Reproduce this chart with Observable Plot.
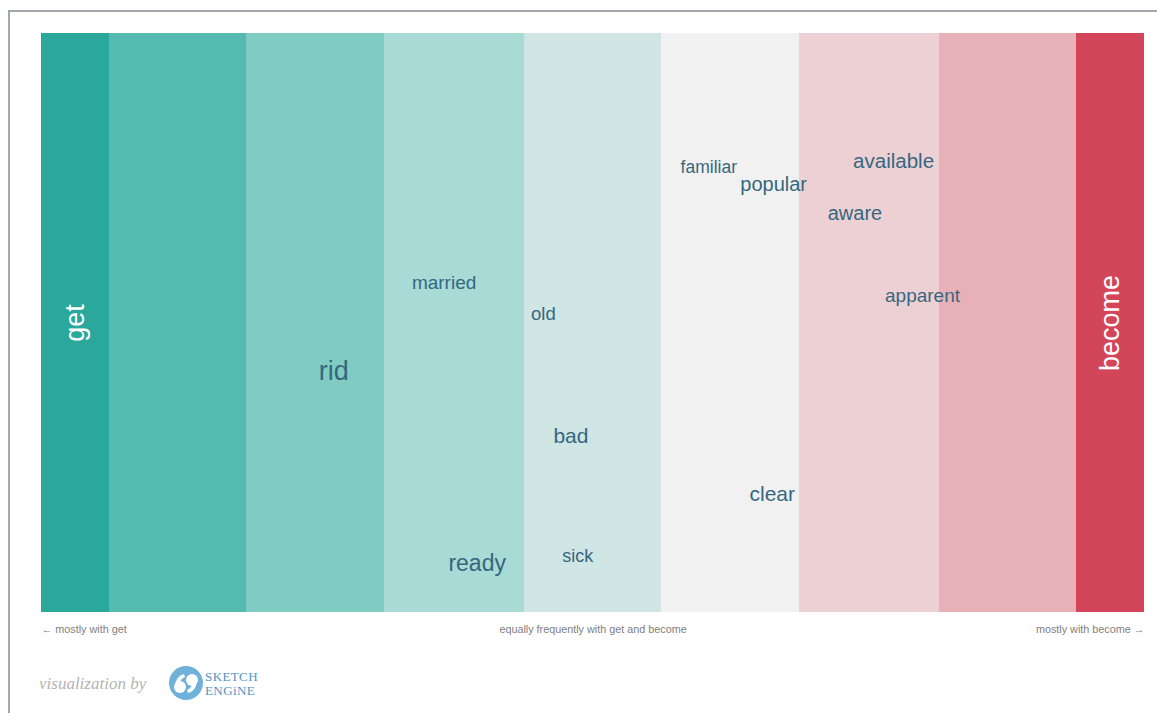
<!DOCTYPE html>
<html>
<head>
<meta charset="utf-8">
<script src="https://cdn.jsdelivr.net/npm/d3@7"></script>
<script src="https://cdn.jsdelivr.net/npm/@observablehq/plot@0.6"></script>
<style>
  html, body { margin: 0; padding: 0; background: #fff; }
  body { width: 1157px; height: 713px; position: relative; overflow: hidden; font-family: "Liberation Sans", Arial, sans-serif; }
  #frame { position: absolute; left: 8px; top: 10px; width: 1160px; height: 720px; border-top: 2px solid #a3a7ab; border-left: 2px solid #a3a7ab; box-sizing: border-box; }
  #chart { position: absolute; left: 0; top: 0; }
  #footer { position: absolute; left: 39px; top: 664px; height: 40px; display: flex; align-items: center; }
  #footer .by { font-family: "Liberation Serif", "DejaVu Serif", serif; font-style: italic; font-size: 17px; color: #b3b3b3; margin-right: 23px; }
</style>
</head>
<body>
<div id="frame"></div>
<div id="chart"></div>
<div id="footer">
  <span class="by">visualization by</span>
  <svg width="100" height="40" viewBox="0 0 100 40">
    <circle cx="17" cy="19" r="17" fill="#6fb1d9"/>
    <circle cx="11" cy="23" r="6" fill="#fff"/>
    <path d="M6,22 Q7,12 15,10 L16,13 Q11,15 10,21 Z" fill="#fff"/>
    <circle cx="23" cy="16" r="6" fill="#fff"/>
    <path d="M28,17 Q27,27 19,29 L18,26 Q23,24 24,18 Z" fill="#fff"/>
    <text x="36" y="17" font-family="Liberation Serif, serif" font-size="13" fill="#4f95c6" letter-spacing="0.4">SKETCH</text>
    <text x="36" y="31" font-family="Liberation Serif, serif" font-size="13" fill="#4f95c6" letter-spacing="0.4">ENGiNE</text>
  </svg>
</div>
<script>
// Bands (position scale: 0 = only "get", 8 = only "become")
const bandNames  = ["get", "b1", "b2", "b3", "b4", "b5", "b6", "b7", "become"];
const bandStart  = [0, 0.49, 1.49, 2.49, 3.5, 4.5, 5.5, 6.51, 7.51];
const bandEnd    = [0.49, 1.49, 2.49, 3.5, 4.5, 5.5, 6.51, 7.51, 8];
const bandColors = ["#29a89b", "#55bbb2", "#80cbc2", "#a8dbd6", "#cfe6e4", "#f1f1f1", "#edd0d4", "#e8b1b7", "#d3465a"];

// Collocate words
const words = ["rid", "married", "old", "bad", "ready", "sick", "familiar", "popular", "available", "aware", "apparent", "clear"];
const wordX = [2.12, 2.92, 3.64, 3.84, 3.16, 3.89, 4.84, 5.31, 6.18, 5.90, 6.39, 5.30];
const wordY = [58.4, 43.0, 48.5, 69.6, 91.5, 90.3, 23.1, 26.1, 22.1, 31.1, 45.3, 79.6];
const wordFreq = [270, 190, 185, 210, 230, 180, 175, 200, 205, 200, 190, 210];

// Captions under the chart
const captions = ["← mostly with get", "equally frequently with get and become", "mostly with become →"];
const captionX = [0, 4, 8];

const bands = bandNames.map((name, i) => ({name, x1: bandStart[i], x2: bandEnd[i], color: bandColors[i]}));
const wordData = words.map((w, i) => ({word: w, x: wordX[i], y: wordY[i], freq: wordFreq[i]}));
const capData = captions.map((c, i) => ({text: c, x: captionX[i], anchor: ["start", "middle", "end"][i]}));
const sizeScale = d3.scaleLinear().domain([170, 270]).range([17, 27]);
const ends = [
  {text: "get", x: (bandStart[0] + bandEnd[0]) / 2},
  {text: "become", x: (bandStart[8] + bandEnd[8]) / 2}
];

const chart = Plot.plot({
  width: 1157,
  height: 640,
  marginLeft: 41,
  marginRight: 13,
  marginTop: 33,
  marginBottom: 28,
  x: {domain: [0, 8], axis: null},
  y: {domain: [0, 100], reverse: true, axis: null},
  style: {fontFamily: "'Liberation Sans', Arial, sans-serif", background: "transparent"},
  marks: [
    Plot.rectY(bands, {x1: "x1", x2: "x2", y1: 0, y2: 100, fill: "color", shapeRendering: "crispEdges"}),
    Plot.text(ends, {x: "x", y: 50, text: "text", rotate: -90, fill: "#ffffff", fontSize: 27}),
    Plot.text(wordData, {x: "x", y: "y", text: "word", fill: "#36677f", fontSize: d => sizeScale(d.freq)}),
    ...capData.map(c => Plot.text([c], {x: "x", y: 100, dy: 17, text: "text", textAnchor: c.anchor, fill: "#808080", fontSize: 10.8}))
  ]
});
document.getElementById("chart").appendChild(chart);
</script>
</body>
</html>
